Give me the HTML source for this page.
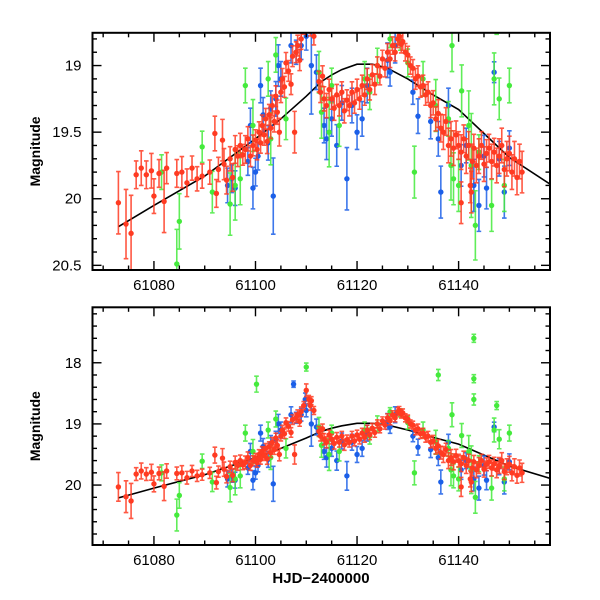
<!DOCTYPE html>
<html><head><meta charset="utf-8"><style>
html,body{margin:0;padding:0;background:#fff;}
svg{display:block;font-family:"Liberation Sans",sans-serif;}
</style></head><body>
<svg id="chart" width="600" height="600" viewBox="0 0 600 600"></svg>
<script>
const redT=[61073,61074.5,61075.5,61076.5,61077.5,61078.5,61079.5,61080,61081,61082,61082.5,61084.5,61085.5,61086.5,61087.5,61088.5,61089.5,61091,61092,61092.3,61092.7,61093.5,61093.8,61094.3,61095,61095.5,61096,61096.5,61097,61097.5,61098,61098.5,61099,61099.5,61100,61100.3,61100.7,61101,61101.3,61101.7,61102,61102.3,61102.7,61103,61103.3,61103.7,61104,61104.3,61104.7,61105,61105.3,61105.7,61106,61106.5,61107,61107.3,61107.7,61108,61108.3,61108.7,61109,61109.5,61110.5,61111,61111.5,61112.5,61112.8,61113.2,61113.5,61114,61114.5,61115,61115.5,61116,61116.5,61117,61117.5,61118,61118.5,61119,61119.5,61120,61120.5,61121,61121.5,61122,61122.5,61123,61123.5,61124,61124.5,61125,61125.5,61126,61126.5,61127,61127.5,61128,61128.3,61128.7,61129,61129.5,61130,61130.5,61131,61131.5,61132,61132.5,61133,61133.5,61134,61134.5,61135,61135.5,61136,61136.5,61137,61137.5,61138,61138.5,61139,61139.5,61140,61140.5,61141,61141.5,61142,61142.3,61142.7,61143,61143.5,61144,61144.5,61145,61145.5,61146,61146.5,61147,61147.5,61148,61148.5,61149,61149.5,61150,61150.5,61151,61151.5,61152,61152.5,61140.5,61142.5,61110,61110.8];
const redM=[20.03,20.19,20.26,19.82,19.77,19.82,19.79,19.98,19.81,20.02,19.77,19.81,19.8,19.88,19.77,19.85,19.83,19.8,19.51,19.96,19.78,19.56,19.74,19.86,19.7,19.84,19.63,19.68,19.6,19.67,19.63,19.55,19.68,19.6,19.56,19.63,19.5,19.58,19.45,19.52,19.4,19.57,19.37,19.47,19.3,19.42,19.23,19.35,19.5,19.2,19.1,19.16,18.98,19.04,19.14,18.93,19.5,18.9,18.85,18.96,18.8,18.7,18.6,18.62,18.78,19.12,19.2,19.08,19.25,19.3,19.18,19.25,19.32,19.22,19.3,19.2,19.34,19.26,19.3,19.2,19.28,19.18,19.25,19.15,19.22,19.1,19.18,19.07,19.14,19.0,19.08,18.95,19.02,18.9,18.95,18.85,18.9,18.8,18.78,18.84,18.82,18.9,18.92,19.0,19.02,19.1,19.08,19.16,19.15,19.22,19.2,19.3,19.28,19.4,19.36,19.47,19.5,19.42,19.6,19.55,19.62,19.52,19.6,19.65,19.55,19.68,19.6,19.9,19.72,19.62,19.75,19.68,19.6,19.74,19.66,19.62,19.72,19.65,19.75,19.68,19.6,19.78,19.7,19.66,19.8,19.7,19.84,19.72,19.8,20.03,19.95,18.45,18.7];
const redE=[.18,.2,.22,.08,.1,.08,.1,.1,.08,.18,.09,.08,.09,.08,.07,.07,.07,.07,.1,.08,.07,.12,.09,.08,.07,.08,.08,.06,.07,.06,.08,.07,.06,.06,.06,.06,.06,.06,.06,.06,.06,.07,.06,.06,.06,.06,.06,.07,.08,.06,.06,.06,.06,.06,.06,.06,.12,.06,.06,.06,.06,.05,.05,.05,.05,.06,.06,.06,.07,.07,.06,.06,.07,.06,.06,.06,.07,.06,.06,.06,.06,.06,.06,.06,.06,.06,.06,.06,.06,.05,.05,.05,.05,.05,.05,.05,.05,.05,.05,.05,.05,.05,.05,.05,.05,.06,.06,.06,.06,.06,.06,.07,.07,.07,.08,.08,.1,.08,.1,.1,.1,.08,.08,.1,.08,.1,.08,.1,.1,.08,.1,.1,.08,.1,.08,.08,.1,.08,.1,.1,.1,.1,.1,.1,.1,.1,.1,.1,.12,.12,.12,.08,.06];
const blueT=[61094.5,61095.3,61096,61098.5,61099,61099.5,61100,61100.5,61101,61101.5,61102.5,61103,61103.5,61104,61104.5,61105,61107,61108,61109,61110,61111,61112,61113.5,61114,61115,61116,61117,61118,61119,61120,61121,61122,61126,61126.5,61127.5,61131,61132,61134.5,61136,61136.5,61138,61140.5,61141.5,61143,61144,61145,61145.5,61147,61148,61149,61150,61107.5,61109.8];
const blueM=[19.9,19.85,19.92,19.72,19.45,19.92,19.8,19.68,19.15,19.37,19.58,19.32,19.98,19.25,19.0,19.1,18.85,18.9,18.85,18.78,19.0,19.05,19.45,19.55,19.4,19.6,19.28,19.85,19.3,19.5,19.4,19.15,18.96,19.05,18.85,19.2,19.38,19.42,19.55,19.95,19.3,19.75,19.6,19.9,20.05,19.68,19.92,19.05,19.7,19.95,19.62,18.35,18.6];
const blueE=[.1,.08,.1,.08,.1,.12,.08,.08,.1,.1,.1,.1,.22,.1,.12,.1,.1,.07,.08,.08,.28,.1,.1,.12,.1,.12,.1,.18,.1,.1,.1,.1,.1,.08,.1,.07,.1,.1,.1,.15,.1,.12,.1,.15,.15,.12,.12,.06,.1,.15,.1,.04,.08];
const greenT=[61081.5,61084.5,61085,61089.5,61091.5,61095,61096,61097,61098,61099.5,61100.2,61102.5,61103,61104,61106,61110,61112.5,61113,61114.5,61115,61116.5,61121.5,61122.5,61124,61126.5,61128.5,61130,61131.3,61133,61135.5,61136,61138,61138.5,61138.7,61139,61140,61140.6,61142,61142.5,61143,61143,61143,61143.3,61144,61146.5,61147,61147.5,61148,61149,61150];
const greenM=[19.8,20.49,20.17,19.61,19.95,20.04,19.9,19.85,19.15,19.45,18.35,19.1,19.55,18.92,19.4,18.07,19.05,19.35,19.5,19.15,19.45,19.1,19.2,19.0,18.8,18.82,18.98,19.8,19.1,19.3,18.2,19.4,19.75,18.85,19.85,19.9,19.19,19.45,19.75,17.6,18.26,18.6,20.2,19.65,20.05,19.1,18.7,19.25,19.9,19.15];
const greenE=[.1,.2,.16,.09,.12,.18,.2,.15,.1,.15,.1,.1,.15,.1,.12,.05,.12,.15,.2,.1,.12,.1,.1,.1,.05,.05,.08,.15,.1,.15,.07,.1,.2,.15,.15,.15,.15,.2,.3,.05,.05,.07,.2,.1,.15,.15,.05,.12,.15,.1];
const modelT=[61073,61080,61090,61100,61105,61110,61113,61115,61117,61120,61123,61126,61130,61135,61140,61145,61150,61158];
const modelM=[20.21,20.05,19.83,19.55,19.4,19.23,19.12,19.07,19.03,18.99,18.99,19.02,19.1,19.22,19.33,19.51,19.69,19.89];
const xTicks=[61080,61100,61120,61140];

const NS="http://www.w3.org/2000/svg";
const svg=document.getElementById('chart');
const L=92.5,R=550;
const T0=61067.9,T1=61158.0;
const ESCALE=1.3;
const sx=t=>L+(t-T0)/(T1-T0)*(R-L);
function mk(tag,attrs,parent){const e=document.createElementNS(NS,tag);for(const k in attrs)e.setAttribute(k,attrs[k]);(parent||svg).appendChild(e);return e;}

const panels=[
 {name:'top',top:32.8,bot:270,m0:18.754,m1:20.535,yTicks:[19,19.5,20,20.5],yLabels:['19','19.5','20','20.5'],minor:0.1},
 {name:'bottom',top:307.3,bot:545,m0:17.093,m1:20.98,yTicks:[18,19,20],yLabels:['18','19','20'],minor:0.2}
];
const series=[
 {n:'blue',T:blueT,M:blueM,E:blueE,c:'#1b5fe8'},
 {n:'green',T:greenT,M:greenM,E:greenE,c:'#44ea3c'},
 {n:'red',T:redT,M:redM,E:redE,c:'#ff3b22'}
];
panels.forEach((p,pi)=>{
 const sy=m=>p.top+(m-p.m0)/(p.m1-p.m0)*(p.bot-p.top);
 const g=mk('g',{});
 
 
 const cid='clip'+pi;
 const defs=mk('defs',{},g);
 const cp=mk('clipPath',{id:cid},defs);
 mk('rect',{x:L,y:p.top,width:R-L,height:p.bot-p.top},cp);
 const dg=mk('g',{'clip-path':'url(#'+cid+')'},g);
 let d='';
 modelT.forEach((t,i)=>{d+=(i?'L':'M')+sx(t).toFixed(1)+','+sy(modelM[i]).toFixed(1);});
 const curve=mk('path',{d:d,fill:'none',stroke:'#000','stroke-width':1.6},dg);
 
 
 series.forEach(s=>{
  const sg=mk('g',{},dg);
  
  
  s.T.forEach((t,i)=>{
   const e=s.E[i]*ESCALE;
   const x=sx(t),y1=sy(s.M[i]-e),y2=sy(s.M[i]+e),y=sy(s.M[i]);
   const pt=mk('g',{},sg);
   
   
   mk('path',{d:`M${x},${y1}V${y2}M${x-2.3},${y1}h4.6M${x-2.3},${y2}h4.6`,stroke:s.c,'stroke-width':1.6,'stroke-opacity':0.85,fill:'none'},pt);
   mk('circle',{cx:x,cy:y,r:2.7,fill:s.c},pt);
  });
 });
 const fr=mk('rect',{x:L,y:p.top,width:R-L,height:p.bot-p.top,fill:'none',stroke:'#000','stroke-width':2},g);
 
 
 for(let t=61070;t<=61155;t+=5){
  const x=sx(t),maj=(t%20===0);const len=maj?9:4.5;
  mk('line',{x1:x,y1:p.bot,x2:x,y2:p.bot-len,stroke:'#000','stroke-width':1.4},g);
  mk('line',{x1:x,y1:p.top,x2:x,y2:p.top+len,stroke:'#000','stroke-width':1.4},g);
 }
 xTicks.forEach(t=>{
  const tx=mk('text',{x:sx(t),y:p.bot+20,'text-anchor':'middle','font-size':15},g);
  tx.textContent=t;
  
  
 });
 const start=Math.ceil(p.m0/p.minor-1e-6);
 for(let k=start;k*p.minor<=p.m1+1e-6;k++){
  const m=k*p.minor;const y=sy(m);
  const maj=p.yTicks.some(v=>Math.abs(v-m)<1e-6);const len=maj?9:4.5;
  mk('line',{x1:L,y1:y,x2:L+len,y2:y,stroke:'#000','stroke-width':1.4},g);
  mk('line',{x1:R,y1:y,x2:R-len,y2:y,stroke:'#000','stroke-width':1.4},g);
 }
 p.yTicks.forEach((m,i)=>{
  const tx=mk('text',{x:L-11,y:sy(m)+5,'text-anchor':'end','font-size':15},g);
  tx.textContent=p.yLabels[i];
  
  
 });
 const cy=(p.top+p.bot)/2;
 const yt=mk('text',{x:0,y:0,transform:`translate(40,${cy}) rotate(-90)`,'text-anchor':'middle','font-size':14,'font-weight':'bold'},g);
 yt.textContent='Magnitude';
 
 
});
const xt=mk('text',{x:321,y:583,'text-anchor':'middle','font-size':15,'font-weight':'bold'});
xt.textContent='HJD−2400000';


</script>
</body></html>
